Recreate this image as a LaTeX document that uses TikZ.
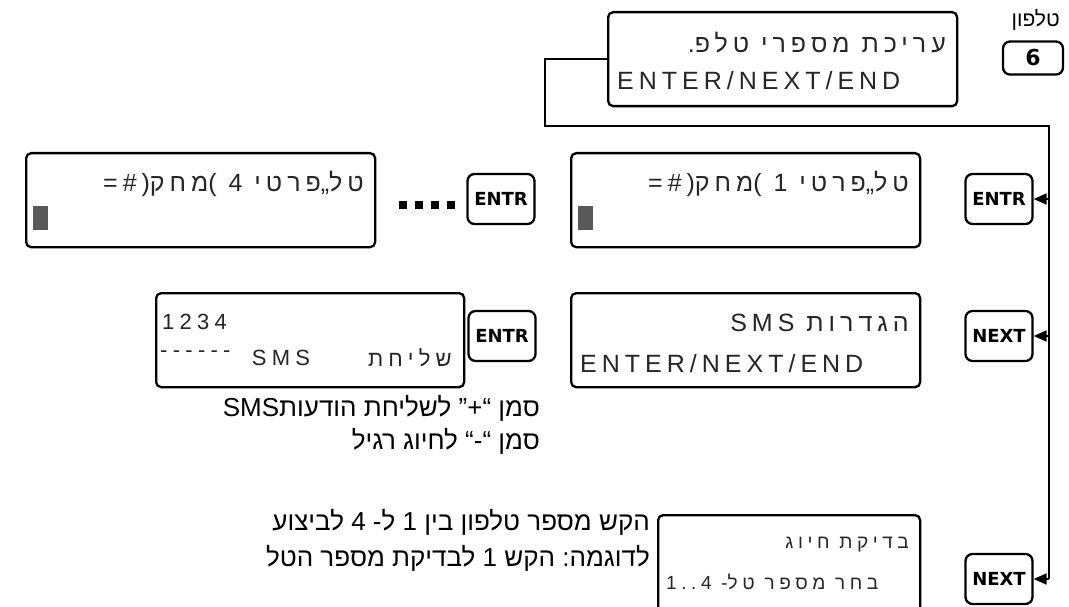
\documentclass[tikz,border=0pt]{standalone}
\usepackage{fontspec}
\setmainfont{Liberation Sans}
\newfontfamily\heb[Script=Hebrew]{Liberation Sans}
\newfontfamily\lcdf[Script=Hebrew,LetterSpace=20]{Liberation Sans}
\newfontfamily\lcds[Script=Hebrew,LetterSpace=24]{Liberation Sans}
\newfontfamily\keyf{DejaVu Sans}
\TeXXeTstate=1
\usetikzlibrary{arrows.meta}
\newcommand\hw[1]{\mbox{#1}}
\begin{document}
\begin{tikzpicture}[x=1pt,y=-1pt,
  lcdbox/.style={draw, line width=2.3pt, rounded corners=5pt, fill=white, minimum width=349pt, minimum height=94pt, anchor=north west, inner sep=0pt},
  keybox/.style={draw, line width=2.3pt, rounded corners=7pt, fill=white, font=\keyf\bfseries\fontsize{18}{18}\selectfont, minimum width=67pt, minimum height=50pt, inner sep=0pt},
  lcdtxt/.style={font=\lcdf\fontsize{25}{25}\selectfont, inner sep=0pt, text=black!85},
  lcdsm/.style={font=\lcds\fontsize{19}{19}\selectfont, inner sep=0pt, text=black!85},
  lcdmd/.style={font=\lcds\fontsize{22}{22}\selectfont, inner sep=0pt, text=black!85},
  body/.style={font=\heb\fontsize{26}{30}\selectfont, inner sep=0pt},
  conn/.style={line width=2pt},
  arr/.style={line width=2pt, -{Triangle[length=13pt,width=11pt]}}
]
\useasboundingbox (0,0) rectangle (1069,607);

% ---- top LCD and key 6
\node[lcdbox] (lcdTop) at (607,11) {};
\node[lcdtxt, anchor=east] (t1a) at (946,43) {\hw{.}\hw{טלפ} \hw{מספרי} \hw{עריכת}};
\node[lcdtxt, anchor=west] (t1b) at (617,81) {ENTER/NEXT/END};
\node[keybox, minimum width=60pt, minimum height=33pt, font=\keyf\bfseries\fontsize{22}{22}\selectfont] (k6) at (1033,58) {6};
\node[body, font=\heb\fontsize{21}{21}\selectfont, anchor=south east] (lbl6) at (1060,31) {טלפון};

% ---- row 2
\node[lcdbox] (lcdL) at (25,152) {};
\node[lcdtxt, anchor=east] (t2a) at (364,184) {\hw{(\#=}\hw{מחק}\hw{)} 4 \hw{פרטי}\hw{„}\hw{טל}};
\node[fill=black!65, minimum width=15pt, minimum height=24pt, inner sep=0pt, anchor=north west] (cur1) at (33,206) {};
\node[keybox] (kE1) at (501,199) {ENTR};
\node[lcdbox] (lcdM) at (570,152) {};
\node[lcdtxt, anchor=east] (t3a) at (909,184) {\hw{(\#=}\hw{מחק}\hw{)} 1 \hw{פרטי}\hw{„}\hw{טל}};
\node[fill=black!65, minimum width=15pt, minimum height=24pt, inner sep=0pt, anchor=north west] (cur2) at (578,206) {};
\node[keybox] (kE2) at (999,199) {ENTR};
\foreach \i in {0,1,2,3} {\fill (399+\i*16,201) rectangle ++(8,8);}

% ---- row 3
\node[lcdbox, minimum width=308pt] (lcdS) at (155,292) {};
\node[lcdmd, anchor=west] (s1) at (162,322) {1234};
\node[lcdmd, anchor=west] (s2) at (160,354) {------};
\node[lcdmd, anchor=center] (s3) at (281,358) {SMS};
\node[lcdmd, anchor=east] (s4) at (452,358) {\hw{שליחת}};
\node[keybox] (kE3) at (502,336) {ENTR};
\node[lcdbox] (lcdG) at (570,292) {};
\node[lcdtxt, anchor=east] (g1) at (909,323) {SMS \hw{הגדרות}};
\node[lcdtxt, anchor=west] (g2) at (580,364) {ENTER/NEXT/END};
\node[keybox] (kN1) at (999,336) {NEXT};

\node[body, anchor=east] (n1) at (540,408) {\beginR סמן \hw{“+”} לשליחת \hw{הודעות}\hw{SMS}\endR};
\node[body, anchor=east] (n2) at (540,441) {\beginR סמן \hw{“-“} לחיוג רגיל\endR};

% ---- bottom
\node[body, anchor=east] (b1) at (650,522) {\beginR הקש מספר טלפון בין 1 \hw{ל}\hw{-} 4 לביצוע\endR};
\node[body, anchor=east] (b2) at (650,558) {\beginR \hw{לדוגמה}\hw{:} הקש 1 לבדיקת מספר הטל\endR};
\node[lcdbox, minimum width=262pt, minimum height=110pt] (lcdB) at (657,514) {};
\node[lcdsm, anchor=east] (c1t) at (909,545) {\hw{חיוג} \hw{בדיקת}};
\node[lcdsm, anchor=west] (c2t) at (666,582) {4..1 \hw{-}\hw{טל} \hw{מספר} \hw{בחר}};
\node[keybox] (kN2) at (999,579) {NEXT};

% ---- connectors
\coordinate (j1) at (545,126);
\coordinate (j2) at (1049,126);
\draw[conn] (lcdTop.west) -| (j1) -- (j2) -- (j2 |- kN2.east);
\draw[arr] (j2 |- kE2.east) -- (kE2.east);
\draw[arr] (j2 |- kN1.east) -- (kN1.east);
\draw[arr] (j2 |- kN2.east) -- (kN2.east);
\end{tikzpicture}
\end{document}
